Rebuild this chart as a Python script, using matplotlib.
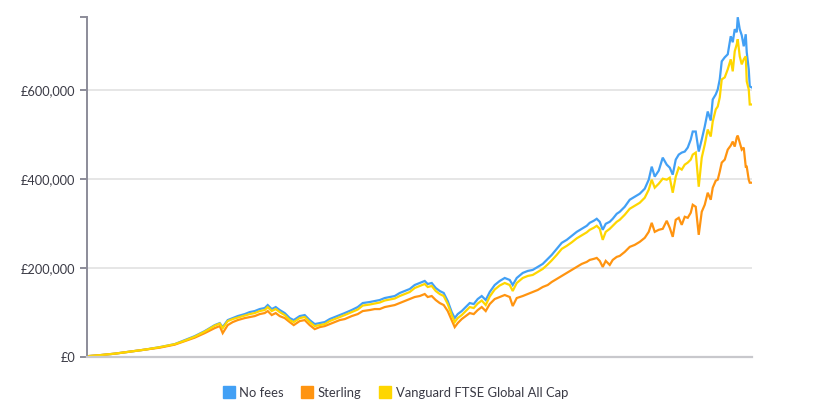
import matplotlib
matplotlib.use("Agg")
import matplotlib.pyplot as plt
from matplotlib.lines import Line2D
from matplotlib.ticker import FuncFormatter

# period index (months from start, sampled)
period = [0,13,28,43,58,73,88,98,108,118,128,133,136,141,146,151,158,163,168,173,178,181,185,189,193,198,203,207,213,218,
          223,228,233,238,243,248,253,258,265,271,276,283,288,293,298,303,308,313,318,323,328,333,338,341,345,349,353,357,361,365,
          368,371,375,379,383,387,391,395,399,403,408,413,418,423,426,430,436,441,446,451,456,461,465,470,475,480,485,490,495,500,
          503,507,510,513,516,519,523,526,530,533,538,543,548,553,558,562,565,568,572,576,580,583,586,589,592,595,598,601,604,606,
          609,612,615,618,621,624,626,629,631,633,635,638,641,644,646,648,650,651,653,655,657,659,660,662,663,665]

# values in £ thousands
no_fees = [1,3.4,6.8,11.3,15.8,21.4,28.2,37.2,46.2,57.5,71.0,75.5,66.5,82.3,86.8,91.3,95.8,100.3,102.6,107.1,
           109.4,116.1,107.1,111.6,104.9,98.1,86.8,82.3,91.3,93.6,82.3,73.3,75.5,77.8,84.6,89.1,93.6,98.1,104.9,111.6,
           120.6,122.9,125.2,127.4,131.9,134.2,136.4,143.2,147.7,152.2,161.2,165.7,170.3,163.5,165.7,154.5,147.7,143.2,125.2,100.3,
           86.8,95.8,102.6,111.6,120.6,118.4,129.7,136.4,127.4,145.4,161.2,170.3,177.0,172.5,161.2,177.0,188.3,192.8,195.1,201.8,
           208.6,219.9,228.9,242.4,256.0,262.7,271.7,280.7,287.5,294.3,301.0,305.6,310.1,303.3,285.3,298.8,303.3,310.1,321.3,325.8,
           337.1,352.9,359.7,366.4,377.7,398.0,427.3,404.8,418.3,447.6,431.8,425.1,409.3,443.1,454.4,458.9,461.2,470.2,488.2,506.3,
           506.3,461.2,488.2,517.5,551.3,531.0,578.4,589.7,601.0,623.5,664.1,673.1,679.9,720.5,707.0,736.3,729.5,763.3,736.3,722.7,
           697.9,725.0,684.4,646.1,607.7,605.5]

sterling = [1,3.4,6.8,11.3,15.8,20.3,27.1,35.0,42.8,53.0,64.3,68.8,53.0,71.0,77.8,82.3,86.8,89.1,91.3,95.8,
            98.1,102.6,93.6,98.1,91.3,86.8,77.8,71.0,80.1,82.3,71.0,62.0,66.5,68.8,73.3,77.8,82.3,84.6,91.3,95.8,
            102.6,104.9,107.1,107.1,111.6,113.9,116.1,120.6,125.2,129.7,134.2,136.4,140.9,134.2,136.4,127.4,120.6,116.1,102.6,82.3,
            66.5,75.5,84.6,91.3,98.1,95.8,104.9,111.6,102.6,118.4,129.7,134.2,138.7,134.2,113.9,131.9,136.4,140.9,145.4,150.0,
            156.7,161.2,168.0,174.8,181.5,188.3,195.1,201.8,208.6,213.1,217.6,219.9,222.1,215.4,201.8,215.4,206.3,217.6,224.4,226.6,
            235.6,246.9,251.4,258.2,267.2,280.7,301.0,280.7,285.3,287.5,305.6,289.8,269.5,307.8,312.3,296.5,314.6,312.3,323.6,341.6,
            337.1,274.0,325.8,341.6,368.7,352.9,379.9,395.7,398.0,416.0,436.4,443.1,465.6,474.7,483.7,472.4,492.7,497.2,481.4,465.6,
            470.2,427.3,427.3,398.0,391.2,391.2]

vanguard = [1,3.4,6.8,11.3,15.8,21.4,28.2,36.1,45.1,56.4,69.9,74.4,64.3,80.1,84.6,87.9,92.5,95.8,98.1,102.6,
            104.9,111.6,102.6,107.1,100.3,93.6,82.3,77.8,86.8,89.1,77.8,68.8,71.0,73.3,80.1,84.6,89.1,93.6,100.3,106.0,
            115.0,117.3,119.5,121.8,126.3,128.5,130.8,136.4,140.9,145.4,154.5,159.0,163.5,156.7,159.0,147.7,140.9,136.4,118.4,93.6,
            77.8,86.8,93.6,102.6,111.6,109.4,119.5,126.3,116.1,135.3,151.1,160.1,165.7,161.2,147.7,165.7,177.0,181.5,183.8,190.5,
            197.3,207.5,216.5,228.9,242.4,249.2,257.1,266.1,272.9,279.6,285.3,289.8,294.3,287.5,262.7,280.7,287.5,294.3,303.3,307.8,
            319.1,332.6,339.4,346.1,357.4,375.5,398.0,380.0,389.0,400.3,398.0,402.5,368.7,404.8,425.1,420.6,431.8,436.4,443.1,454.4,
            458.9,382.2,447.6,476.9,510.8,495.0,528.8,555.9,562.6,582.9,623.5,628.0,646.1,668.6,641.6,686.7,702.4,713.7,675.4,657.3,
            668.6,675.4,619.0,601.0,567.1,567.1]

series_names = ["No fees", "Sterling", "Vanguard FTSE Global All Cap"]
series_colors = ["#42a0f5", "#ff9410", "#fed600"]
y_ticks = [0, 200000, 400000, 600000]

plt.rcParams['font.family'] = ['Lato', 'DejaVu Sans']

fig = plt.figure(figsize=(8.18, 4.15), dpi=100)
ax = fig.add_axes([0.106, 0.1405, 0.813, 0.818])

data = [no_fees, sterling, vanguard]
for vals, name, col in zip(data, series_names, series_colors):
    ax.plot(period, [v * 1000 for v in vals], color=col, lw=1.6, label=name,
            solid_joinstyle='miter')

top = max(no_fees) * 1000
ax.set_xlim(period[0], period[-1])
ax.set_ylim(0, top)

ax.set_yticks(y_ticks + [top])
ax.yaxis.set_major_formatter(FuncFormatter(lambda v, p: "" if v > 700000 else ("£0" if v == 0 else "£{:,.0f}".format(v))))
ax.set_xticks([])

for v in y_ticks[1:]:
    ax.axhline(v, color="#e6e6e6", lw=1.4, zorder=0)

for s in ["top", "right"]:
    ax.spines[s].set_visible(False)
ax.spines["left"].set_color("#8c8c99")
ax.spines["left"].set_linewidth(1.4)
ax.spines["bottom"].set_color("#c8c8cc")
ax.spines["bottom"].set_linewidth(1.6)
ax.tick_params(axis="y", length=5, width=1.4, color="#8c8c99", labelsize=9.2, labelcolor="#3a3a45", pad=3)

handles = [Line2D([0], [0], marker='s', linestyle='none', markersize=8,
                  markerfacecolor=c, markeredgecolor=c) for c in series_colors]
fig.legend(handles, series_names, loc="center", bbox_to_anchor=(0.483, 0.053), ncol=3,
           frameon=False, fontsize=9.4, handletextpad=0.3, columnspacing=1.3,
           labelcolor="#3a3a45", handlelength=1.0)

fig.savefig("out.png", dpi=100)
